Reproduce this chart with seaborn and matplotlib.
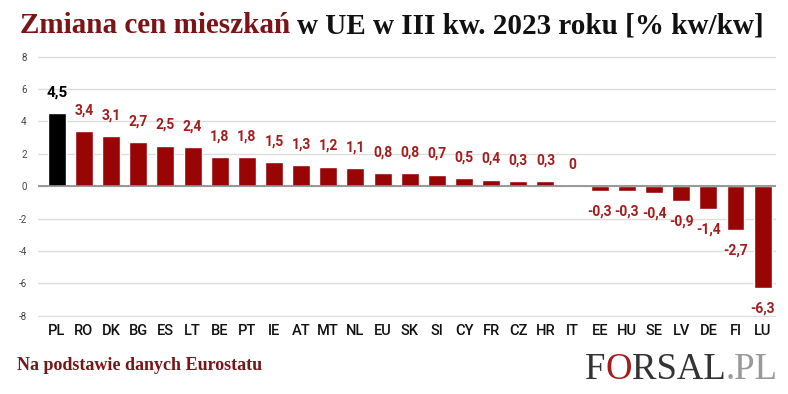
import matplotlib
matplotlib.use("Agg")
import matplotlib.pyplot as plt
import seaborn as sns
import pandas as pd

# data
countries = ['PL', 'RO', 'DK', 'BG', 'ES', 'LT', 'BE', 'PT', 'IE', 'AT', 'MT', 'NL', 'EU', 'SK',
             'SI', 'CY', 'FR', 'CZ', 'HR', 'IT', 'EE', 'HU', 'SE', 'LV', 'DE', 'FI', 'LU']
values = [4.5, 3.4, 3.1, 2.7, 2.5, 2.4, 1.8, 1.8, 1.5, 1.3, 1.2, 1.1, 0.8, 0.8,
          0.7, 0.5, 0.4, 0.3, 0.3, 0.0, -0.3, -0.3, -0.4, -0.9, -1.4, -2.7, -6.3]
y_ticks = [-8, -6, -4, -2, 0, 2, 4, 6, 8]

RED = '#990505'
LABEL_RED = '#a51c1c'
TITLE_RED = '#7a1416'

df = pd.DataFrame({'country': countries, 'value': values})
colors = ['black' if c == 'PL' else RED for c in countries]

sns.set_style('white')
fig = plt.figure(figsize=(7.88, 3.94), dpi=100)
ax = fig.add_axes([0.048, 0.195, 0.937, 0.665])

sns.barplot(data=df, x='country', y='value', hue='country', palette=colors,
            legend=False, width=0.66, ax=ax, saturation=1)

ax.set_ylim(-8.1, 8.1)
ax.set_xlim(-0.7, 26.5)
ax.set_yticks(y_ticks)
ax.set_yticklabels([str(t) for t in y_ticks])
ax.yaxis.grid(True, color='#dddddd', lw=1)
ax.set_axisbelow(True)
ax.axhline(0, color='#888888', lw=1.2, zorder=1)
for s in ax.spines.values():
    s.set_visible(False)
ax.tick_params(axis='y', length=0, pad=8, labelsize=7, labelcolor='#444444')
ax.tick_params(axis='x', length=0, pad=5, labelsize=10.5)
for lab in ax.get_xticklabels():
    lab.set_fontfamily('Roboto')
    lab.set_fontweight('medium')
    lab.set_color('#111111')
for lab in ax.get_yticklabels():
    lab.set_fontfamily('Roboto')
ax.set_xlabel('')
ax.set_ylabel('')

for i, v in enumerate(values):
    txt = f'{v:.1f}'.replace('.', ',') if v != 0 else '0'
    off = 15 if v >= 0 else -15
    if countries[i] == 'PL':
        ax.annotate(txt, (i, v), xytext=(0, off), textcoords='offset points',
                    ha='center', va='center', fontsize=11, fontweight='bold', color='black',
                    family='Roboto')
    else:
        ax.annotate(txt, (i, v), xytext=(0, off), textcoords='offset points',
                    ha='center', va='center', fontsize=10, fontweight='bold', color=LABEL_RED,
                    family='Roboto')

# two-colour title
fig.canvas.draw()
r = fig.canvas.get_renderer()
t1 = fig.text(0.025, 0.935, 'Zmiana cen mieszkań', fontsize=21, fontweight='bold',
              color=TITLE_RED, family='Liberation Serif', va='center')
bb = t1.get_window_extent(renderer=r)
fig.text(bb.x1 / fig.bbox.width + 0.009, 0.935, 'w UE w III kw. 2023 roku [% kw/kw]',
         fontsize=21, fontweight='bold', color='#111111', family='Liberation Serif', va='center')

fig.text(0.021, 0.073, 'Na podstawie danych Eurostatu', fontsize=13, fontweight='bold',
         color=TITLE_RED, family='Liberation Serif', va='center')

# logo
x = 0.742
for part, col in [('F', '#333333'), ('O', '#a51c1c'), ('RSAL', '#333333'), ('.PL', '#999999')]:
    t = fig.text(x, 0.062, part, fontsize=26.5, color=col, family='Liberation Serif', va='center')
    x = t.get_window_extent(renderer=r).x1 / fig.bbox.width

fig.savefig('out.png', dpi=100)
